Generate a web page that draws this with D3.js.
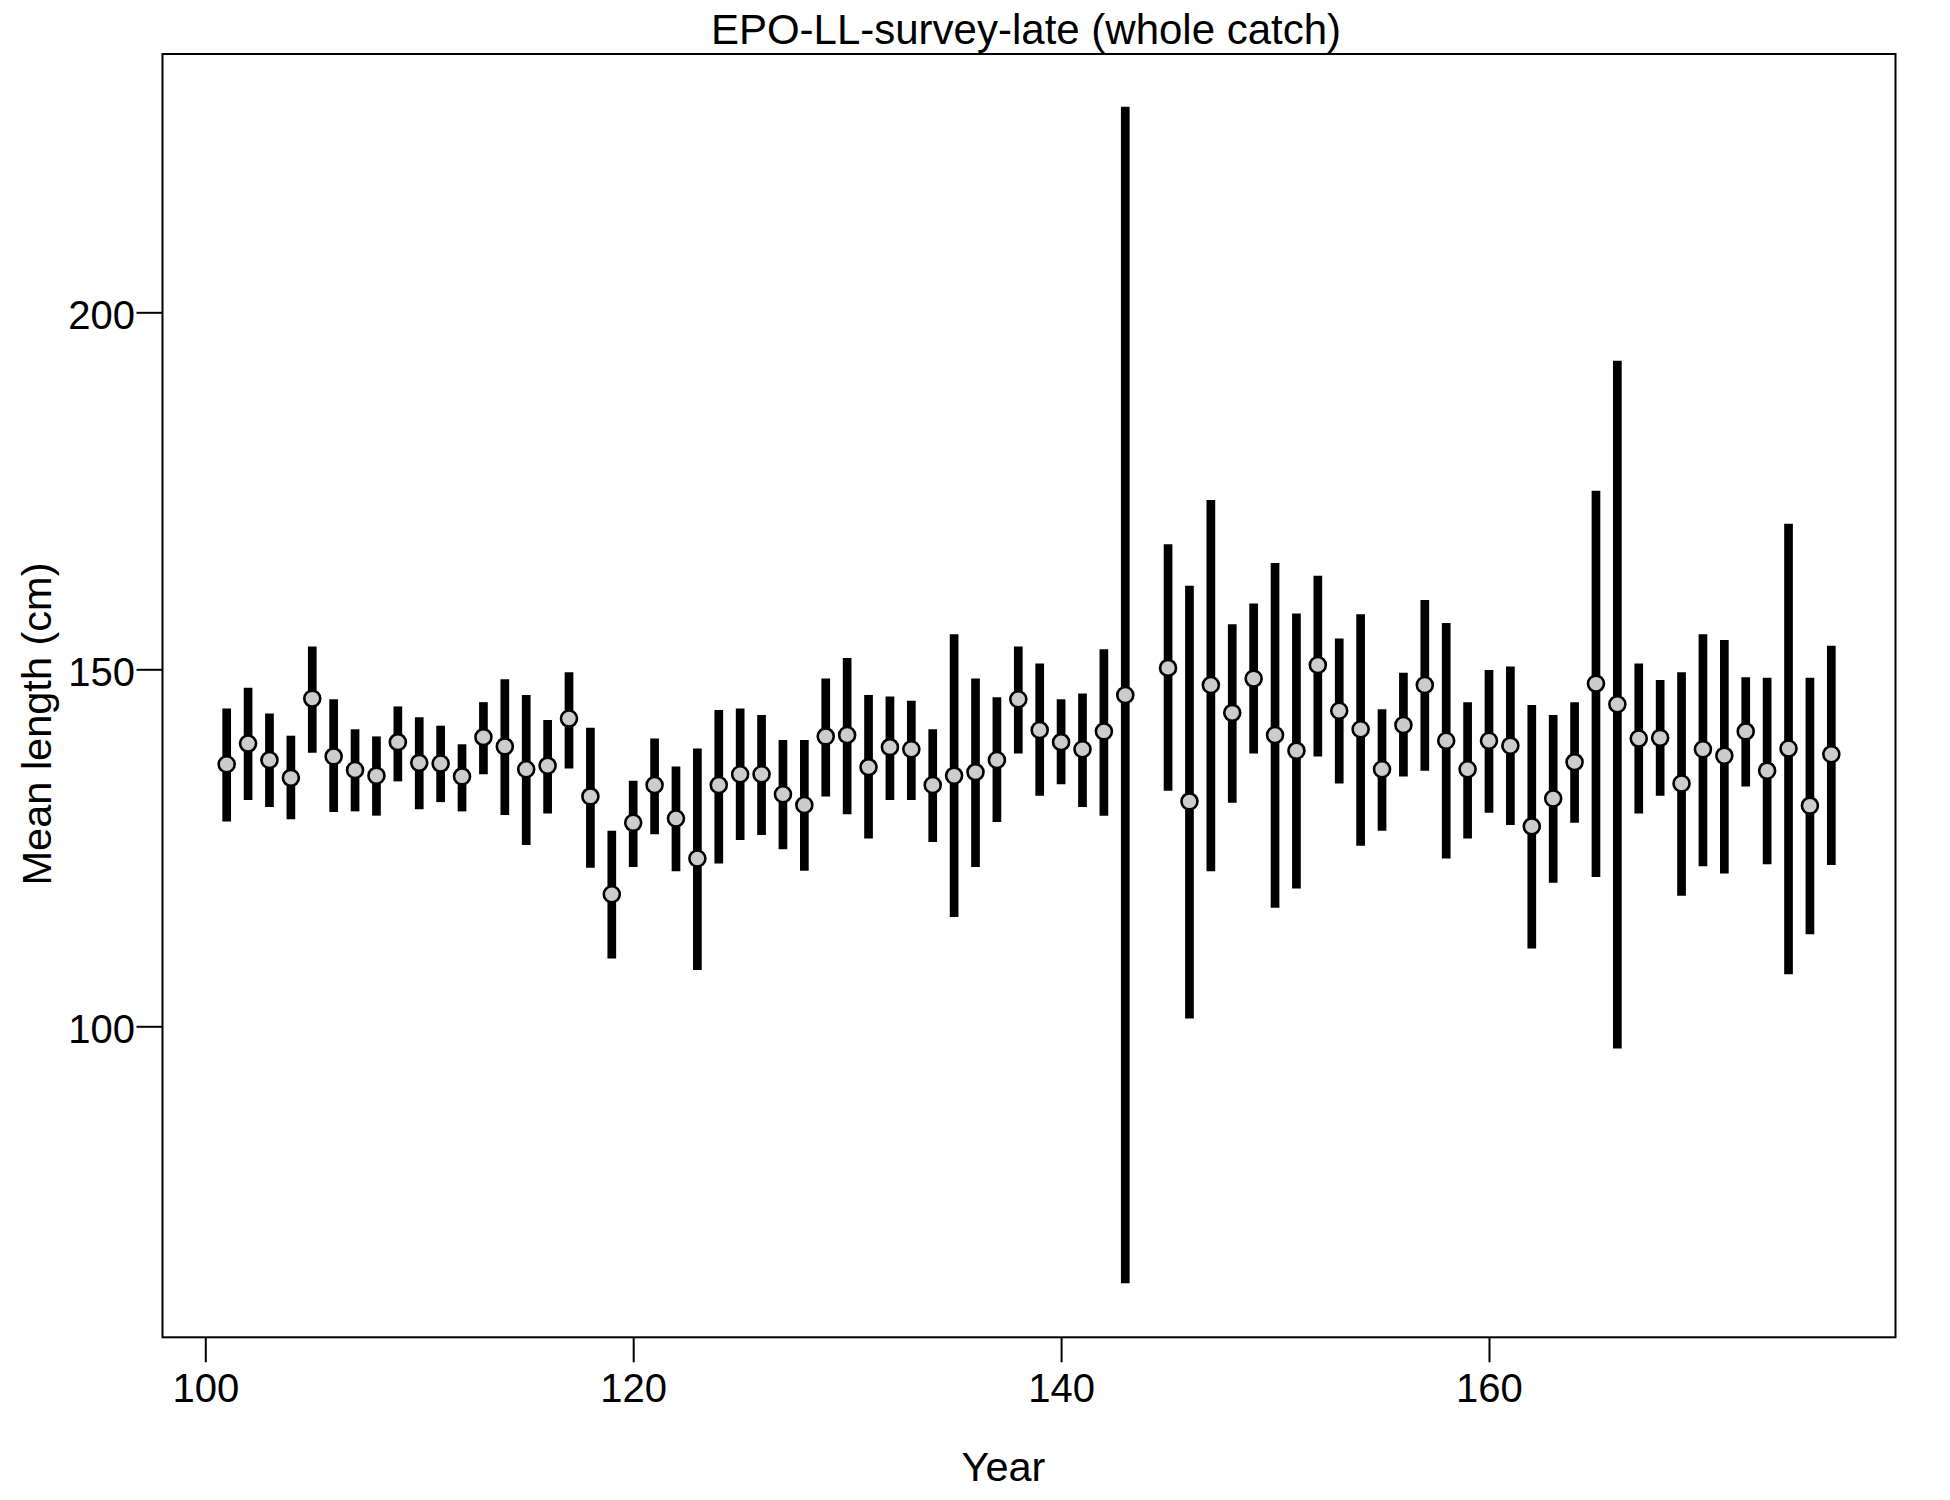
<!DOCTYPE html>
<html>
<head>
<meta charset="utf-8">
<script src="https://cdn.jsdelivr.net/npm/d3@7"></script>
<style>
  html, body { margin: 0; padding: 0; background: #ffffff; }
  svg { display: block; font-family: "Liberation Sans", Arial, sans-serif; }
</style>
</head>
<body>
<svg id="chart" width="1950" height="1500"></svg>
<script>
const years = [101,102,103,104,105,106,107,108,109,110,111,112,113,114,115,116,117,118,119,120,
  121,122,123,124,125,126,127,128,129,130,131,132,133,134,135,136,137,138,139,140,141,142,143,
  145,146,147,148,149,150,151,152,153,154,155,156,157,158,159,160,161,162,163,164,165,166,167,168,169,170,
  171,172,173,174,175,176];
const meanLength = [136.7,139.6,137.3,134.8,145.9,137.8,135.9,135.1,139.8,136.9,136.8,135.0,140.5,139.2,136.0,136.5,143.1,132.2,118.5,128.5,
  133.8,129.1,123.5,133.8,135.3,135.3,132.5,131.0,140.6,140.8,136.3,139.1,138.8,133.8,135.1,135.6,137.3,145.8,141.5,139.8,138.8,141.3,146.4,
  150.2,131.5,147.8,143.9,148.7,140.8,138.6,150.6,144.2,141.6,136.0,142.2,147.8,140.0,136.0,140.0,139.3,128.0,131.9,137.0,148.0,145.1,140.3,140.4,134.0,138.8,
  137.9,141.3,135.8,138.9,130.9,138.1];
const upperCI = [144.5,147.4,143.8,140.7,153.2,145.8,141.6,140.6,144.8,143.3,142.1,139.5,145.4,148.6,146.4,142.9,149.6,141.8,127.4,134.4,
  140.3,136.4,138.9,144.3,144.5,143.6,140.1,140.1,148.7,151.6,146.4,146.2,145.6,141.6,154.9,148.7,146.1,153.2,150.8,145.8,146.6,152.8,228.8,
  167.5,161.7,173.7,156.3,159.2,164.9,157.8,163.1,154.3,157.7,144.4,149.5,159.7,156.5,145.4,149.9,150.4,145.0,143.6,145.4,175.0,193.2,150.8,148.5,149.6,154.9,
  154.1,148.9,148.8,170.4,148.8,153.3];
const lowerCI = [128.7,131.7,130.7,129.0,138.3,130.0,130.1,129.5,134.3,130.4,131.4,130.1,135.3,129.6,125.4,129.8,136.1,122.2,109.5,122.3,
  126.9,121.7,107.9,122.8,126.1,126.8,124.8,121.8,132.2,129.7,126.3,131.7,131.7,125.8,115.3,122.3,128.6,138.2,132.3,133.9,130.7,129.5,64.0,
  133.0,101.1,121.7,131.3,138.2,116.6,119.3,137.8,134.0,125.3,127.4,135.0,135.8,123.5,126.3,129.9,128.2,110.9,120.1,128.5,120.9,96.9,129.8,132.3,118.3,122.4,
  121.4,133.6,122.7,107.3,112.9,122.6];
const xTicks = [100,120,140,160];
const yTicks = [100,150,200];
const titleText = "EPO-LL-survey-late (whole catch)";
const xLabel = "Year";
const yLabel = "Mean length (cm)";

(function () {
const data = years.map((yr, i) => ({year: yr, mean: meanLength[i], lo: lowerCI[i], hi: upperCI[i]}));

const pL = 162.5, pR = 1895.5, pT = 54, pB = 1337.3;
const svg = d3.select("#chart");
svg.append("rect").attr("width", 1950).attr("height", 1500).attr("fill", "#fff");

const x = d3.scaleLinear().domain([98, 179]).range([pL, pR]);
const y = d3.scaleLinear().domain([56.44, 236.18]).range([pB, pT]);

// error bars
svg.append("g").selectAll("line").data(data).join("line")
  .attr("x1", d => x(d.year)).attr("x2", d => x(d.year))
  .attr("y1", d => y(d.lo)).attr("y2", d => y(d.hi))
  .attr("stroke", "#000").attr("stroke-width", 8.7).attr("stroke-linecap", "butt");

// points
svg.append("g").selectAll("circle").data(data).join("circle")
  .attr("cx", d => x(d.year)).attr("cy", d => y(d.mean)).attr("r", 8)
  .attr("fill", "#cccccc").attr("stroke", "#000").attr("stroke-width", 2.6);

// box
svg.append("rect").attr("x", pL).attr("y", pT).attr("width", pR - pL).attr("height", pB - pT)
  .attr("fill", "none").attr("stroke", "#000").attr("stroke-width", 2);

// x axis
const gx = svg.append("g").attr("transform", `translate(0,${pB})`)
  .call(d3.axisBottom(x).tickValues(xTicks).tickSize(25).tickPadding(11).tickFormat(d3.format("d")));
gx.select(".domain").remove();
gx.selectAll(".tick line").attr("stroke", "#000").attr("stroke-width", 2);
gx.selectAll(".tick text").attr("fill", "#000").style("font-size", "40px")
  .style("font-family", "'Liberation Sans', Arial, sans-serif");

// y axis
const gy = svg.append("g").attr("transform", `translate(${pL},0)`)
  .call(d3.axisLeft(y).tickValues(yTicks).tickSize(26).tickPadding(1.5).tickFormat(d3.format("d")));
gy.select(".domain").remove();
gy.selectAll(".tick line").attr("stroke", "#000").attr("stroke-width", 2);
gy.selectAll(".tick text").attr("fill", "#000").attr("dy", "16px").style("font-size", "40px")
  .style("font-family", "'Liberation Sans', Arial, sans-serif");

// title
svg.append("text").attr("x", 1026).attr("y", 44).attr("text-anchor", "middle")
  .style("font-size", "42px").attr("fill", "#000").text(titleText);
// x label
svg.append("text").attr("x", 1003.5).attr("y", 1481).attr("text-anchor", "middle")
  .style("font-size", "41.5px").attr("fill", "#000").text(xLabel);
// y label
svg.append("text").attr("transform", "translate(50.7,724) rotate(-90)").attr("text-anchor", "middle")
  .style("font-size", "41.5px").attr("fill", "#000").text(yLabel);
})();
</script>
</body>
</html>
